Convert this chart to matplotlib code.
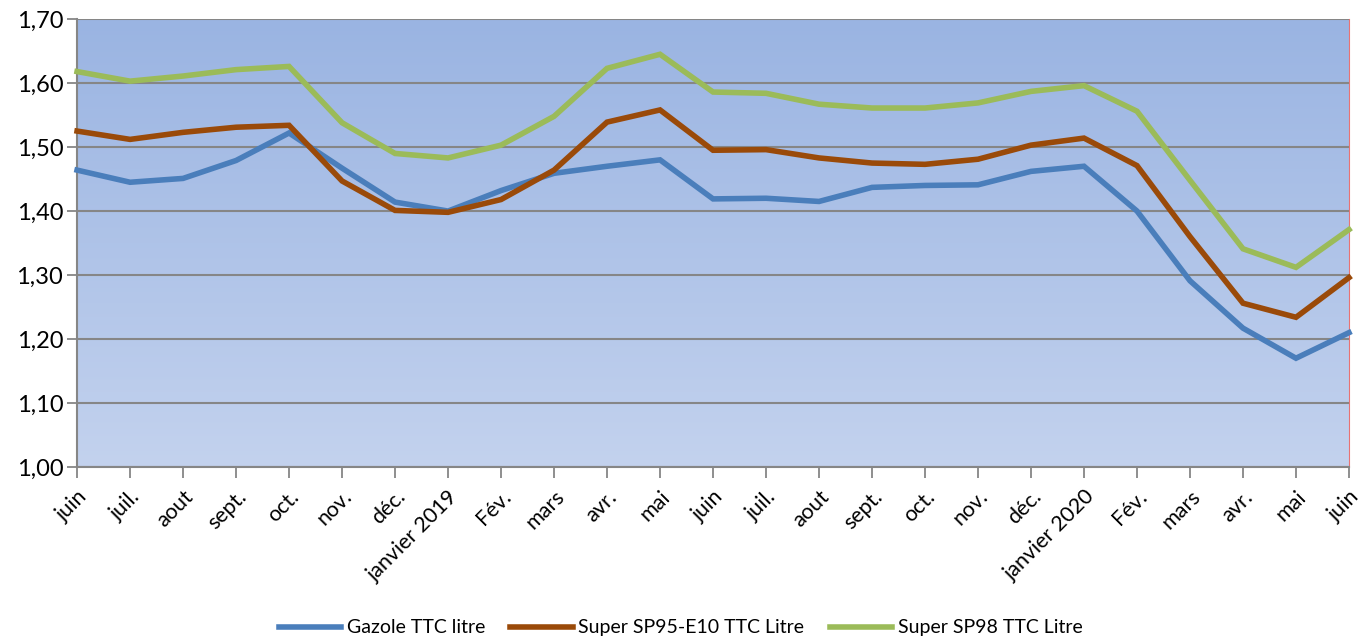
import numpy as np
import matplotlib

matplotlib.use("Agg")
import matplotlib.pyplot as plt
from matplotlib.colors import LinearSegmentedColormap
from matplotlib.ticker import FuncFormatter, MultipleLocator

months = [
    "juin", "juil.", "aout", "sept.", "oct.", "nov.", "déc.", "janvier 2019",
    "Fév.", "mars", "avr.", "mai", "juin", "juil.", "aout", "sept.", "oct.",
    "nov.", "déc.", "janvier 2020", "Fév.", "mars", "avr.", "mai", "juin",
]
gazole = [
    1.464, 1.445, 1.451, 1.479, 1.522, 1.467, 1.414, 1.400, 1.432, 1.459,
    1.470, 1.480, 1.419, 1.420, 1.415, 1.437, 1.440, 1.441, 1.462, 1.470,
    1.400, 1.291, 1.217, 1.170, 1.210,
]
sp95 = [
    1.525, 1.512, 1.523, 1.531, 1.534, 1.447, 1.401, 1.398, 1.418, 1.464,
    1.539, 1.558, 1.495, 1.496, 1.483, 1.475, 1.473, 1.481, 1.503, 1.514,
    1.471, 1.360, 1.256, 1.234, 1.296,
]
sp98 = [
    1.618, 1.603, 1.611, 1.621, 1.626, 1.538, 1.490, 1.483, 1.503, 1.548,
    1.623, 1.645, 1.586, 1.584, 1.567, 1.561, 1.561, 1.569, 1.587, 1.596,
    1.556, 1.448, 1.341, 1.312, 1.371,
]
series = [
    ("Gazole TTC litre", gazole, "#4A7EBB"),
    ("Super SP95-E10 TTC Litre", sp95, "#9A4A09"),
    ("Super SP98 TTC Litre", sp98, "#9BBB59"),
]

plt.rcParams["font.family"] = ["Lato", "DejaVu Sans"]
grid_grey = "#868686"

fig = plt.figure(figsize=(13.64, 6.36), dpi=100)
ax = fig.add_axes([0.0565, 0.2657, 0.9325, 0.7043])

# vertical gradient background like the spreadsheet plot area
cmap = LinearSegmentedColormap.from_list("bg", ["#C3D2EE", "#9AB4E2"])
grad = np.linspace(0, 1, 256).reshape(-1, 1)
ax.imshow(grad, extent=[0, 1, 0, 1], transform=ax.transAxes, aspect="auto",
          cmap=cmap, origin="lower", zorder=0)

x = np.arange(len(months))
for label, values, color in series:
    ax.plot(x, values, color=color, lw=4.0, label=label, zorder=3,
            solid_joinstyle="miter", clip_on=False)

ax.set_xlim(0, len(months) - 1)
ax.set_ylim(1.0, 1.7)
ax.yaxis.set_major_locator(MultipleLocator(0.1))
ax.yaxis.set_major_formatter(FuncFormatter(lambda v, _: f"{v:.2f}".replace(".", ",")))
ax.grid(axis="y", color=grid_grey, lw=1.5, zorder=1)
ax.set_axisbelow(False)

ax.set_xticks(x)
ax.set_xticklabels(months, rotation=45, ha="right", rotation_mode="anchor")
ax.tick_params(axis="x", length=8, width=1.3, color=grid_grey, labelsize=15.5, pad=6,
               direction="out")
ax.tick_params(axis="y", length=7, width=1.3, color=grid_grey, labelsize=17, pad=3)

for side in ["left", "bottom"]:
    ax.spines[side].set_color(grid_grey)
    ax.spines[side].set_linewidth(1.5)
ax.spines["top"].set_visible(False)
ax.spines["right"].set_color("#E87373")
ax.spines["right"].set_linewidth(0.8)

handles, labels = ax.get_legend_handles_labels()
fig.legend(handles, labels, loc="lower center", bbox_to_anchor=(0.499, -0.028),
           ncol=3, frameon=False, fontsize=14, handlelength=3.2,
           handletextpad=0.3, columnspacing=1.3)

fig.savefig("out.png", dpi=100)
plt.close(fig)
